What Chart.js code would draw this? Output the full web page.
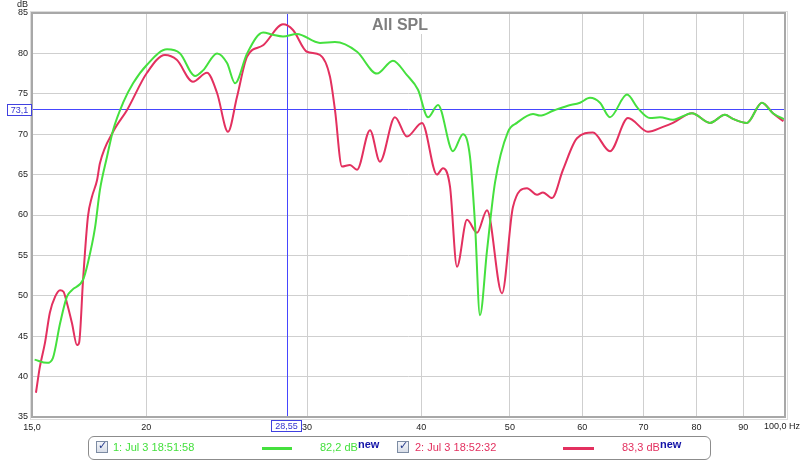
<!DOCTYPE html>
<html>
<head>
<meta charset="utf-8">
<title>All SPL</title>
<script src="https://cdn.jsdelivr.net/npm/chart.js@4.4.1/dist/chart.umd.min.js"></script>
<style>
    body { margin: 0; background: #fff; font-family: "Liberation Sans", Arial, sans-serif; }
    #wrap { position: relative; width: 800px; height: 461px; }
    #legendBox { position: absolute; left: 88px; top: 436px; width: 621px; height: 22px; border: 1px solid #8c8c8c; border-radius: 6px; }
    .lg { position: absolute; font-size: 11px; line-height: 13px; white-space: nowrap; }
    .chk { position: absolute; width: 10px; height: 10px; border: 1px solid #7d8ca3; background: linear-gradient(#f4f6fa, #d9dee8); }
    .chk span { position: absolute; left: 1px; top: -3px; font: bold 11px "DejaVu Sans", sans-serif; color: #24398a; }
    .sample { position: absolute; height: 3px; }
    .nw { position: relative; top: -3px; font-weight: bold; color: #1414a8; }
</style>
</head>
<body>
<div id="wrap">
    <canvas id="spl-chart" width="800" height="461"></canvas>
    <div id="legendBox"></div>

    <div class="chk" style="left:96px;top:441px"><span>✓</span></div>
    <div class="lg" id="name1" style="left:113px;top:441px"></div>
    <div class="sample" id="sample1" style="left:262px;top:447px;width:30px"></div>
    <div class="lg" style="left:320px;top:441px"><span id="level1"></span><span class="nw">new</span></div>

    <div class="chk" style="left:397px;top:441px"><span>✓</span></div>
    <div class="lg" id="name2" style="left:415px;top:441px"></div>
    <div class="sample" id="sample2" style="left:563px;top:447px;width:31px"></div>
    <div class="lg" style="left:622px;top:441px"><span id="level2"></span><span class="nw">new</span></div>
</div>

<script>

// measurement 1 (green)
const greenFreq = [15.1, 15.58, 15.81, 16.1, 16.38, 16.59, 17.06, 17.27, 17.58, 17.8, 18.12, 18.4, 18.87, 19.35, 20.04,
    21.08, 21.78, 22.62, 23.08, 23.91, 24.52, 25.02, 25.79, 26.85, 27.53, 28.23, 29.24, 30.99, 32.18, 34.02,
    35.77, 37.24, 38.58, 39.67, 40.68, 41.72, 43.32, 44.43, 45.22, 45.79, 46.37, 47.2, 48.16, 49.76, 50.9,
    53.0, 53.94, 55.74, 57.74, 59.66, 61.18, 62.74, 64.34, 67.16, 69.05, 71.16, 72.98, 75.41, 79.1, 82.77,
    85.95, 87.7, 90.85, 94.35, 97.0, 100];
const greenDb = [42.1, 41.7, 42.3, 46.6, 49.9, 50.7, 52.0, 54.1, 58.4, 63.1, 67.2, 70.5, 73.9, 76.3, 78.6,
    80.5, 80.0, 77.2, 77.9, 80.0, 78.8, 76.3, 80.0, 82.6, 82.3, 82.1, 82.4, 81.3, 81.4, 80.2,
    77.5, 79.1, 77.3, 75.5, 72.1, 73.6, 67.9, 70.0, 67.2, 59.0, 47.6, 55.6, 64.0, 70.3, 71.4,
    72.5, 72.3, 72.9, 73.5, 73.9, 74.5, 73.9, 72.1, 74.9, 73.2, 72.0, 72.1, 71.8, 72.6, 71.4,
    72.4, 71.9, 71.4, 73.9, 72.6, 71.8];

// measurement 2 (red)
const redFreq = [15.15, 15.3, 15.5, 15.69, 15.9, 16.1, 16.24, 16.38, 16.59, 16.8, 16.89, 17.06, 17.27, 17.44, 17.67,
    17.8, 18.4, 19.06, 20.04, 20.97, 21.6, 22.5, 23.31, 23.91, 24.58, 25.14, 25.79, 26.85, 28.23, 28.95,
    29.99, 30.99, 31.78, 32.18, 32.75, 33.42, 34.02, 35.15, 36.04, 37.43, 38.58, 40.07, 41.61, 42.24, 43.0,
    43.76, 44.88, 46.02, 47.2, 49.02, 50.39, 52.2, 53.54, 54.35, 55.6, 57.16, 59.21, 61.64, 64.34, 67.33,
    70.81, 73.53, 75.41, 79.1, 82.77, 85.95, 87.7, 90.85, 94.35, 97.0, 99.6];
const redDb = [38.0, 41.2, 44.2, 47.9, 49.9, 50.7, 50.5, 49.1, 46.6, 43.9, 44.2, 52.0, 59.8, 62.2, 64.3,
    66.4, 70.3, 73.0, 77.6, 79.8, 79.2, 76.5, 77.6, 75.1, 70.3, 74.6, 79.6, 81.0, 83.6, 82.9,
    80.2, 79.8, 77.1, 73.0, 66.0, 66.2, 65.6, 70.5, 66.6, 72.1, 69.7, 71.4, 65.0, 65.8, 63.5,
    53.6, 59.4, 57.8, 60.6, 50.3, 61.0, 63.3, 62.5, 62.8, 62.1, 65.6, 69.5, 70.2, 67.9, 72.0,
    70.3, 70.9, 71.4, 72.6, 71.4, 72.4, 71.9, 71.4, 73.9, 72.6, 71.6];

const xTickValues = [15, 20, 30, 40, 50, 60, 70, 80, 90, 100];
const xTickLabels = ['15,0', '20', '30', '40', '50', '60', '70', '80', '90', ''];

const seriesNames = ['1: Jul 3 18:51:58', '2: Jul 3 18:52:32'];
const seriesLevels = ['82,2 dB', '83,3 dB'];
const seriesColors = ['#45e03e', '#e3305f'];

const cursorFreq = 28.55;
const cursorDb = 73.1;

const tickFont = { family: 'Liberation Sans', size: 9 };


function toPoints(freqs, dbs) {
    return freqs.map((f, i) => ({ x: f, y: dbs[i] }))
}


// legend texts
document.getElementById('name1').innerText = seriesNames[0];
document.getElementById('name2').innerText = seriesNames[1];
document.getElementById('level1').innerText = seriesLevels[0];
document.getElementById('level2').innerText = seriesLevels[1];
document.getElementById('name1').style.color = seriesColors[0];
document.getElementById('name2').style.color = seriesColors[1];
document.getElementById('level1').style.color = seriesColors[0];
document.getElementById('level2').style.color = seriesColors[1];
document.getElementById('sample1').style.background = seriesColors[0];
document.getElementById('sample2').style.background = seriesColors[1];


function boxedLabel(ctx, text, x, y, w, h) {
    ctx.fillStyle = '#fff';
    ctx.fillRect(x, y, w, h);
    ctx.strokeStyle = '#4040e0';
    ctx.lineWidth = 1;
    ctx.strokeRect(x + 0.5, y + 0.5, w - 1, h - 1);
    ctx.fillStyle = '#3434d0';
    ctx.font = '9px "Liberation Sans"';
    ctx.textAlign = 'center';
    ctx.textBaseline = 'middle';
    ctx.fillText(text, x + w / 2, y + h / 2 + 1);
}


// cursor lines, frame, title and the extra labels
const rewDecor = {
    id: 'rewDecor',
    beforeDatasetsDraw(chart) {
        const { ctx, chartArea, scales } = chart;
        const cx = Math.round(scales.x.getPixelForValue(cursorFreq)) + 0.5;
        const cy = Math.round(scales.y.getPixelForValue(cursorDb)) + 0.5;
        ctx.save();
        ctx.strokeStyle = '#4646ff';
        ctx.lineWidth = 1;
        ctx.beginPath();
        ctx.moveTo(cx, chartArea.top);
        ctx.lineTo(cx, chartArea.bottom);
        ctx.moveTo(chartArea.left, cy);
        ctx.lineTo(chartArea.right, cy);
        ctx.stroke();
        ctx.restore();
    },
    afterDraw(chart) {
        const { ctx, chartArea, scales } = chart;
        ctx.save();

        // frame
        ctx.strokeStyle = '#dcdcdc';
        ctx.lineWidth = 1;
        ctx.strokeRect(chartArea.left - 1.5, chartArea.top - 1.5, chartArea.width + 4, chartArea.height + 4);
        ctx.strokeStyle = '#a8a8a8';
        ctx.lineWidth = 2;
        ctx.strokeRect(chartArea.left, chartArea.top, chartArea.width, chartArea.height);

        // title
        ctx.fillStyle = '#fff';
        ctx.fillRect(368, chartArea.top + 2, 64, 19);
        ctx.fillStyle = '#7e7e7e';
        ctx.font = 'bold 16px "Liberation Sans"';
        ctx.textAlign = 'center';
        ctx.textBaseline = 'alphabetic';
        ctx.fillText('All SPL', 400, 30);

        // unit labels
        ctx.fillStyle = '#222';
        ctx.font = '9px "Liberation Sans"';
        ctx.textAlign = 'right';
        ctx.textBaseline = 'top';
        ctx.fillText('dB', 28, 0);
        ctx.fillText('100,0 Hz', 800, chartArea.bottom + 5);

        // cursor values
        const cx = scales.x.getPixelForValue(cursorFreq);
        const cy = scales.y.getPixelForValue(cursorDb);
        boxedLabel(ctx, '73,1', 7, Math.round(cy) - 5, 25, 12);
        boxedLabel(ctx, '28,55', Math.round(cx) - 16, chartArea.bottom + 3, 31, 12);

        ctx.restore();
    }
};


const ctx = document.getElementById('spl-chart').getContext('2d');

new Chart(ctx, {
    type: 'line',
    data: {
        datasets: [
            {
                label: seriesNames[0],
                data: toPoints(greenFreq, greenDb),
                borderColor: seriesColors[0],
                borderWidth: 2,
                pointRadius: 0,
                fill: false,
                cubicInterpolationMode: 'monotone'
            },
            {
                label: seriesNames[1],
                data: toPoints(redFreq, redDb),
                borderColor: seriesColors[1],
                borderWidth: 2,
                pointRadius: 0,
                fill: false,
                cubicInterpolationMode: 'monotone'
            }
        ]
    },
    options: {
        responsive: false,
        animation: false,
        layout: { padding: { top: 13, right: 15, left: 0, bottom: 0 } },
        plugins: {
            legend: { display: false },
            tooltip: { enabled: false }
        },
        scales: {
            x: {
                type: 'logarithmic',
                min: 15,
                max: 100,
                afterBuildTicks: (axis) => {
                    axis.ticks = xTickValues.map(v => ({ value: v }))
                },
                afterFit: (axis) => { axis.height = 44 },
                grid: { color: '#cfcfcf', lineWidth: 1, drawTicks: false },
                border: { display: false },
                ticks: {
                    autoSkip: false,
                    maxRotation: 0,
                    padding: 5,
                    color: '#222',
                    font: tickFont,
                    callback: (value, index) => xTickLabels[index]
                }
            },
            y: {
                min: 35,
                max: 85,
                afterFit: (axis) => { axis.width = 32 },
                grid: { color: '#cfcfcf', lineWidth: 1, drawTicks: false },
                border: { display: false },
                ticks: {
                    stepSize: 5,
                    padding: 4,
                    color: '#222',
                    font: tickFont
                }
            }
        }
    },
    plugins: [rewDecor]
});

</script>
</body>
</html>
